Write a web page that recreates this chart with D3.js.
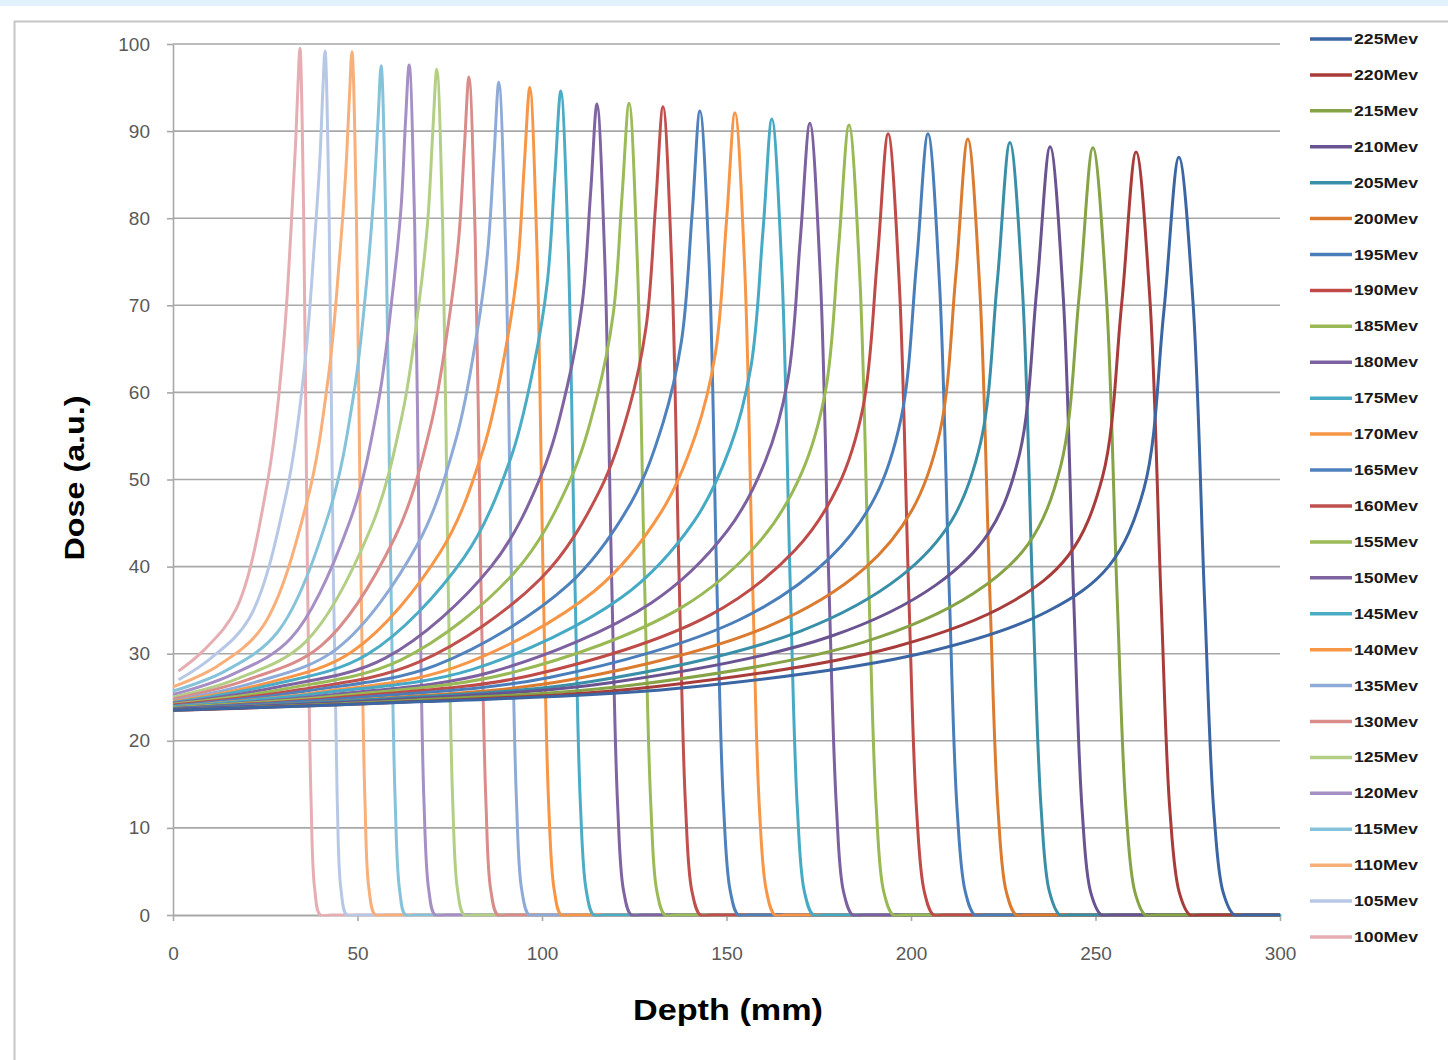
<!DOCTYPE html>
<html>
<head>
<meta charset="utf-8">
<script src="https://cdn.jsdelivr.net/npm/d3@7"></script>
<style>
  body { margin: 0; background: #fff; }
  svg { display: block; }
</style>
</head>
<body>
<svg id="chart" width="1448" height="1060"></svg>
<script>
// Proton beam energies, in legend order (top to bottom)
const energies = [225, 220, 215, 210, 205, 200, 195, 190, 185, 180, 175, 170, 165,
                  160, 155, 150, 145, 140, 135, 130, 125, 120, 115, 110, 105, 100];

// Depth-dose curves: [depth (mm), dose (a.u.)]
const dose225 = [[0,23.5],[68.2,24.5],[136.3,26.0],[204.5,30.2],[237.2,34.9],[253.5,40.0],[263.1,48.9],[268.5,69.2],[272.6,87.0],[276.4,70.5],[279.6,35.7],[282.1,11.7],[284.6,2.6],[287.6,0],[290.6,0],[300,0]];
const dose220 = [[0,23.5],[65.3,24.5],[130.5,26.2],[195.8,30.8],[227.1,35.9],[242.7,41.3],[251.9,50.3],[257.1,70.2],[261.0,87.6],[264.7,71.0],[267.8,35.9],[270.2,11.8],[272.7,2.6],[275.6,0],[278.6,0],[300,0]];
const dose215 = [[0,23.5],[62.3,24.6],[124.7,26.4],[187.0,31.3],[216.9,36.9],[231.8,42.6],[240.6,51.6],[245.6,71.2],[249.3,88.1],[252.9,71.4],[255.9,36.1],[258.3,11.9],[260.7,2.6],[263.5,0],[266.5,0],[300,0]];
const dose210 = [[0,23.6],[59.4,24.7],[118.9,26.7],[178.3,32.0],[206.8,37.9],[221.1,43.9],[229.4,52.9],[234.1,71.9],[237.7,88.2],[241.2,71.4],[244.1,36.2],[246.4,11.9],[248.7,2.6],[251.6,0],[254.6,0],[300,0]];
const dose205 = [[0,23.6],[56.7,24.8],[113.4,26.8],[170.1,32.6],[197.3,38.9],[210.9,45.2],[218.9,54.3],[223.4,72.8],[226.8,88.7],[230.2,71.8],[233.0,36.4],[235.3,12.0],[237.5,2.7],[240.3,0],[243.3,0],[300,0]];
const dose200 = [[0,23.6],[53.9,24.8],[107.7,27.0],[161.6,33.2],[187.4,39.8],[200.3,46.5],[207.9,55.6],[212.2,73.7],[215.4,89.1],[218.6,72.2],[221.4,36.5],[223.6,12.0],[225.8,2.7],[228.5,0],[231.5,0],[300,0]];
const dose195 = [[0,23.7],[51.2,25.0],[102.3,27.3],[153.5,33.9],[178.0,41.0],[190.3,48.0],[197.4,57.2],[201.5,74.8],[204.6,89.7],[207.7,72.7],[210.4,36.8],[212.5,12.1],[214.7,2.7],[217.3,0],[220.3,0],[300,0]];
const dose190 = [[0,23.7],[48.5,25.1],[96.9,27.5],[145.4,34.4],[168.6,41.9],[180.2,49.2],[187.0,58.3],[190.9,75.4],[193.8,89.7],[196.8,72.7],[199.4,36.8],[201.5,12.1],[203.6,2.7],[206.1,0],[209.1,0],[300,0]];
const dose185 = [[0,23.8],[45.8,25.2],[91.6,27.8],[137.4,35.2],[159.4,43.1],[170.4,50.8],[176.8,60.1],[180.4,76.8],[183.2,90.7],[186.1,73.5],[188.6,37.2],[190.6,12.2],[192.6,2.7],[195.2,0],[198.2,0],[300,0]];
const dose180 = [[0,23.8],[43.2,25.3],[86.3,27.9],[129.5,35.8],[150.2,44.1],[160.5,52.1],[166.6,61.4],[170.0,77.6],[172.6,90.9],[175.4,73.6],[177.8,37.3],[179.8,12.3],[181.7,2.7],[184.2,0],[187.2,0],[300,0]];
const dose175 = [[0,23.9],[40.6,25.5],[81.2,28.2],[121.7,36.5],[141.2,45.2],[150.9,53.6],[156.6,62.9],[159.9,78.6],[162.3,91.4],[165.0,74.0],[167.3,37.5],[169.2,12.3],[171.1,2.7],[173.5,0],[176.5,0],[300,0]];
const dose170 = [[0,23.9],[38.1,25.5],[76.2,28.4],[114.2,37.2],[132.5,46.4],[141.6,55.1],[147.0,64.5],[150.0,79.7],[152.3,92.1],[154.9,74.6],[157.1,37.8],[158.9,12.4],[160.8,2.8],[163.1,0],[166.1,0],[300,0]];
const dose165 = [[0,24.0],[35.7,25.7],[71.4,28.7],[107.1,37.9],[124.2,47.4],[132.8,56.5],[137.8,65.9],[140.7,80.6],[142.8,92.3],[145.3,74.8],[147.4,37.8],[149.2,12.5],[151.0,2.8],[153.2,0],[156.2,0],[300,0]];
const dose160 = [[0,24.1],[33.2,25.8],[66.4,29.0],[99.6,38.6],[115.5,48.6],[123.5,58.0],[128.2,67.5],[130.8,81.6],[132.8,92.8],[135.1,75.2],[137.2,38.0],[138.9,12.5],[140.6,2.8],[142.9,0],[145.9,0],[300,0]];
const dose155 = [[0,24.2],[30.9,26.0],[61.8,29.3],[92.7,39.4],[107.5,49.8],[114.9,59.5],[119.3,69.0],[121.7,82.6],[123.6,93.2],[125.8,75.5],[127.8,38.2],[129.5,12.6],[131.1,2.8],[133.3,0],[136.3,0],[300,0]];
const dose150 = [[0,24.3],[28.7,26.2],[57.5,29.5],[86.2,40.0],[100.0,50.7],[106.9,60.8],[110.9,70.2],[113.2,83.1],[114.9,93.1],[117.0,75.4],[118.9,38.2],[120.5,12.6],[122.1,2.8],[124.2,0],[127.2,0],[300,0]];
const dose145 = [[0,24.4],[26.3,26.4],[52.6,29.9],[78.8,41.0],[91.4,52.3],[97.7,62.9],[101.4,72.5],[103.5,85.1],[105.1,94.6],[107.1,76.6],[108.9,38.8],[110.4,12.8],[112.0,2.8],[114.0,0],[117.0,0],[300,0]];
const dose140 = [[0,24.5],[24.2,26.5],[48.4,30.2],[72.5,41.7],[84.1,53.5],[89.9,64.4],[93.3,74.0],[95.2,86.1],[96.7,95.0],[98.6,77.0],[100.3,39.0],[101.8,12.8],[103.3,2.9],[105.2,0],[108.2,0],[300,0]];
const dose135 = [[0,24.6],[22.1,26.7],[44.2,30.5],[66.2,42.5],[76.8,54.8],[82.1,66.1],[85.2,75.8],[87.0,87.2],[88.3,95.6],[90.1,77.4],[91.7,39.2],[93.1,12.9],[94.5,2.9],[96.5,0],[99.5,0],[300,0]];
const dose130 = [[0,24.8],[20.1,27.0],[40.1,30.9],[60.2,43.4],[69.8,56.1],[74.6,67.8],[77.4,77.5],[79.0,88.4],[80.2,96.2],[81.9,77.9],[83.4,39.4],[84.8,13.0],[86.1,2.9],[88.0,0],[91.0,0],[300,0]];
const dose125 = [[0,25.0],[17.9,27.2],[35.8,31.3],[53.6,44.4],[62.2,57.6],[66.5,69.7],[69.0,79.5],[70.4,89.9],[71.5,97.1],[73.1,78.7],[74.5,39.8],[75.8,13.1],[77.1,2.9],[78.9,0],[81.9,0],[300,0]];
const dose120 = [[0,25.3],[16.0,27.6],[32.0,31.8],[48.0,45.3],[55.7,59.0],[59.5,71.4],[61.8,81.2],[63.0,91.0],[64.0,97.6],[65.5,79.1],[66.8,40.0],[68.0,13.2],[69.3,2.9],[71.0,0],[74.0,0],[300,0]];
const dose115 = [[0,25.7],[14.1,28.0],[28.2,32.4],[42.3,46.2],[49.1,60.1],[52.5,72.8],[54.4,82.6],[55.6,91.6],[56.4,97.5],[57.7,79.0],[59.0,40.0],[60.2,13.2],[61.4,2.9],[63.0,0],[66.0,0],[300,0]];
const dose110 = [[0,26.2],[12.1,28.6],[24.3,33.1],[36.4,47.6],[42.2,62.1],[45.1,75.3],[46.8,85.2],[47.8,93.8],[48.5,99.1],[49.7,80.3],[50.9,40.6],[52.0,13.4],[53.1,3.0],[54.8,0],[57.8,0],[300,0]];
const dose105 = [[1.5,27.0],[10.3,29.5],[20.6,34.0],[30.9,48.8],[35.8,63.6],[38.3,77.0],[39.8,86.7],[40.6,94.6],[41.2,99.2],[42.3,80.4],[43.4,40.7],[44.5,13.4],[45.5,3.0],[47.1,0],[50.1,0],[300,0]];
const dose100 = [[1.5,28.0],[8.6,30.5],[17.2,35.2],[25.8,50.2],[29.9,65.2],[32.0,78.8],[33.2,88.4],[33.9,95.6],[34.4,99.5],[35.4,80.6],[36.4,40.8],[37.4,13.4],[38.4,3.0],[39.9,0],[42.9,0],[300,0]];

const curves = [dose225, dose220, dose215, dose210, dose205, dose200, dose195, dose190, dose185,
                dose180, dose175, dose170, dose165, dose160, dose155, dose150, dose145, dose140,
                dose135, dose130, dose125, dose120, dose115, dose110, dose105, dose100];

// Line colours, same order as energies
const colors = ['#3B66A3', '#A83C3A', '#86A446', '#6A5391', '#3A8FA8', '#DB7B30',
                '#4A7EBB', '#BE4B48', '#98B954', '#7D60A0', '#46AAC5', '#F79646',
                '#4F81BD', '#C0504D', '#9BBB59', '#8064A2', '#4BACC6', '#F79646',
                '#8EABD8', '#D98C8A', '#B2CF85', '#A58FC4', '#86C3DA', '#F8AF7A',
                '#B7C8E6', '#E6AEB2'];

const xTicks = [0, 50, 100, 150, 200, 250, 300];
const yTicks = [0, 10, 20, 30, 40, 50, 60, 70, 80, 90, 100];

const svg = d3.select('#chart');
const W = 1448, H = 1060;
const FONT = '"Liberation Sans", Arial, sans-serif';

svg.append('rect').attr('width', W).attr('height', H).attr('fill', '#fff');
// pale band along the top edge
svg.append('rect').attr('x', 0).attr('y', 0).attr('width', W).attr('height', 6).attr('fill', '#E2F2FC');
// chart frame
svg.append('rect').attr('x', 14.5).attr('y', 21.5).attr('width', 1500).attr('height', 1100)
  .attr('fill', '#fff').attr('stroke', '#C6C6C6').attr('stroke-width', 2);

const x = d3.scaleLinear().domain([0, 300]).range([173, 1280]);
const y = d3.scaleLinear().domain([0, 100]).range([915, 44]);

// horizontal gridlines
svg.append('g')
  .selectAll('line')
  .data(yTicks.filter(v => v > 0))
  .join('line')
  .attr('x1', x(0)).attr('x2', x(300))
  .attr('y1', d => y(d)).attr('y2', d => y(d))
  .attr('stroke', '#A8A8A8').attr('stroke-width', 1.6);

// y axis
const yAxis = svg.append('g').attr('transform', `translate(${x(0)},0)`)
  .call(d3.axisLeft(y).tickValues(yTicks).tickSize(6).tickSizeOuter(0).tickPadding(17));
yAxis.select('.domain').attr('stroke', '#A8A8A8').attr('stroke-width', 1.6);
yAxis.selectAll('.tick line').attr('stroke', '#A8A8A8').attr('stroke-width', 1.6);
yAxis.selectAll('.tick text').attr('fill', '#595959').style('font-family', FONT).style('font-size', '19px');

// x axis
const xAxis = svg.append('g').attr('transform', `translate(0,${y(0)})`)
  .call(d3.axisBottom(x).tickValues(xTicks).tickSize(6).tickSizeOuter(0));
xAxis.select('.domain').attr('stroke', '#A8A8A8').attr('stroke-width', 2);
xAxis.selectAll('.tick line').attr('stroke', '#A8A8A8').attr('stroke-width', 1.6);
xAxis.selectAll('.tick text').attr('fill', '#595959').attr('y', 38).attr('dy', '0.35em')
  .style('font-family', FONT).style('font-size', '19px');

// depth-dose curves, clipped to the plot area so the smooth spline never dips under the baseline
svg.append('clipPath').attr('id', 'plot-clip')
  .append('rect').attr('x', x(0)).attr('y', 0).attr('width', x(300) - x(0) + 2).attr('height', y(0) + 1.6);

const line = d3.line()
  .x(d => x(d[0]))
  .y(d => y(d[1]))
  .curve(d3.curveCatmullRom.alpha(0.5));

const order = d3.range(curves.length).reverse();
svg.append('g')
  .attr('clip-path', 'url(#plot-clip)')
  .selectAll('path')
  .data(order)
  .join('path')
  .attr('d', i => line(curves[i]))
  .attr('fill', 'none')
  .attr('stroke', i => colors[i])
  .attr('stroke-width', 3)
  .attr('stroke-linejoin', 'round');

// axis titles
svg.append('text')
  .attr('transform', 'translate(84,478) rotate(-90)')
  .attr('text-anchor', 'middle')
  .attr('fill', '#000')
  .style('font-family', FONT).style('font-weight', 'bold').style('font-size', '28px')
  .attr('textLength', 165).attr('lengthAdjust', 'spacingAndGlyphs')
  .text('Dose (a.u.)');

svg.append('text')
  .attr('x', 728).attr('y', 1020)
  .attr('text-anchor', 'middle')
  .attr('fill', '#000')
  .style('font-family', FONT).style('font-weight', 'bold').style('font-size', '29px')
  .attr('textLength', 190).attr('lengthAdjust', 'spacingAndGlyphs')
  .text('Depth (mm)');

// legend
const legend = svg.append('g');
const rowY = i => 39 + i * 35.92;
legend.selectAll('line')
  .data(energies)
  .join('line')
  .attr('x1', 1310).attr('x2', 1352)
  .attr('y1', (d, i) => rowY(i)).attr('y2', (d, i) => rowY(i))
  .attr('stroke', (d, i) => colors[i]).attr('stroke-width', 3.5);
legend.selectAll('text')
  .data(energies)
  .join('text')
  .attr('x', 1354).attr('y', (d, i) => rowY(i)).attr('dy', '0.36em')
  .attr('fill', '#1a1a1a')
  .style('font-family', FONT).style('font-weight', 'bold').style('font-size', '14px')
  .attr('textLength', 64).attr('lengthAdjust', 'spacingAndGlyphs')
  .text(d => `${d}Mev`);
</script>
</body>
</html>
